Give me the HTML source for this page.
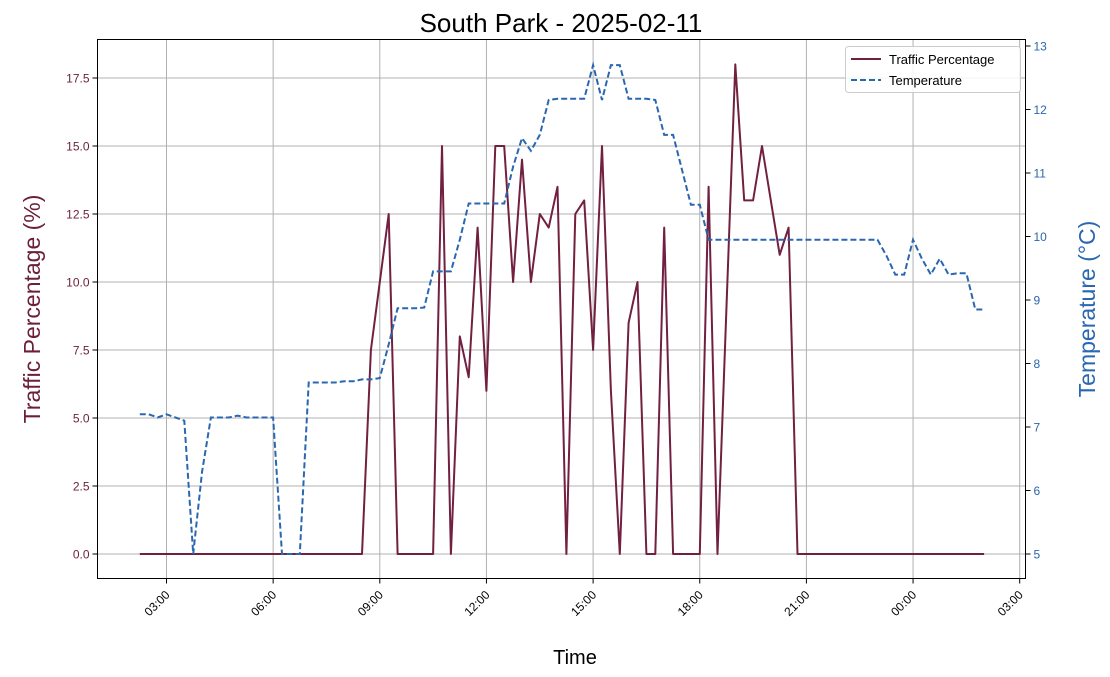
<!DOCTYPE html>
<html><head><meta charset="utf-8"><style>
body{margin:0;background:#fff;}
svg{font-family:"Liberation Sans","DejaVu Sans",sans-serif;display:block}
</style></head><body>
<svg id="chart" width="1110" height="677" viewBox="0 0 1110 677" xmlns="http://www.w3.org/2000/svg">
<rect width="1110" height="677" fill="#fff"/>
<text x="561" y="32" font-size="26" text-anchor="middle" fill="#000">South Park - 2025-02-11</text>
<g id="grid"></g>
<g id="series"></g>
<rect x="97.5" y="39.5" width="928" height="539" fill="none" stroke="#000" stroke-width="1"/>
<g id="axes"></g>
<text x="575" y="664" font-size="20" text-anchor="middle">Time</text>
<text transform="translate(40,309) rotate(-90)" font-size="23" text-anchor="middle" fill="#6b1f3a">Traffic Percentage (%)</text>
<text transform="translate(1095,309) rotate(-90)" font-size="23" text-anchor="middle" fill="#2a67b0">Temperature (°C)</text>
<g>
<rect x="845.5" y="46.5" width="175" height="46" rx="3" fill="#fff" fill-opacity="0.85" stroke="#ccc"/>
<line x1="851" y1="59" x2="881" y2="59" stroke="#722040" stroke-width="2"/>
<text x="889" y="64" font-size="13">Traffic Percentage</text>
<line x1="851" y1="80" x2="881" y2="80" stroke="#2a67b0" stroke-width="2" stroke-dasharray="6,3"/>
<text x="889" y="85" font-size="13">Temperature</text>
</g>
</svg>
<script>
const startHour = 2.25;
const stepHour = 0.25;
const traffic = [0,0,0,0,0,0,0,0,0,0,0,0,0,0,0,0,0,0,0,0,0,0,0,0,0,0,7.5,10,12.5,0,0,0,0,0,15,0,8,6.5,12,6,15,15,10,14.5,10,12.5,12,13.5,0,12.5,13,7.5,15,6,0,8.5,10,0,0,12,0,0,0,0,13.5,0,9,18,13,13,15,13,11,12,0,0,0,0,0,0,0,0,0,0,0,0,0,0,0,0,0,0,0,0,0,0];
const temperature = [7.2,7.2,7.15,7.2,7.15,7.1,5.0,6.3,7.15,7.15,7.15,7.18,7.15,7.15,7.15,7.15,5.0,5.0,5.0,
7.7,7.7,7.7,7.7,7.72,7.72,7.75,7.75,7.77,8.3,8.87,8.87,8.87,8.88,9.45,9.45,9.45,9.95,10.52,10.52,10.52,10.52,10.52,
11.1,11.55,11.35,11.6,12.15,12.17,12.17,12.17,12.17,12.7,12.15,12.7,12.7,12.17,12.17,12.17,12.15,11.6,11.6,11.05,10.5,10.5,
9.95,9.95,9.95,9.95,9.95,9.95,9.95,9.95,9.95,9.95,9.95,9.95,9.95,9.95,9.95,9.95,9.95,9.95,9.95,9.95,
9.7,9.4,9.4,9.95,9.65,9.4,9.65,9.4,9.42,9.42,8.85,8.85];
const xTickHours = [3,6,9,12,15,18,21,24,27];
const xTickLabels = ["03:00","06:00","09:00","12:00","15:00","18:00","21:00","00:00","03:00"];
const leftTicks = [0,2.5,5,7.5,10,12.5,15,17.5];
const leftTickLabels = ["0.0","2.5","5.0","7.5","10.0","12.5","15.0","17.5"];
const rightTicks = [5,6,7,8,9,10,11,12,13];

const NS = "http://www.w3.org/2000/svg";
const L=97.5,R=1025.5,T=39.5,B=578.5;
function xs(h){return 166.5+(h-3)*35.55;}
function yl(v){return 554-v*27.2;}
function yr(v){return 554-(v-5)*63.5;}
function mk(tag,attrs,parent){const e=document.createElementNS(NS,tag);for(const k in attrs)e.setAttribute(k,attrs[k]);parent.appendChild(e);return e;}
const grid=document.getElementById('grid'),axes=document.getElementById('axes'),series=document.getElementById('series');

xTickHours.forEach((h,i)=>{
  const x=xs(h);
  const g=mk('line',{x1:x,y1:T,x2:x,y2:B,stroke:'#b0b0b0','stroke-width':1},grid);
  
  
  const t=mk('line',{x1:x,y1:B,x2:x,y2:B+5,stroke:'#000'},axes);
  
  
  const tx=mk('text',{x:0,y:0,'font-size':12,'text-anchor':'end',transform:`translate(${x+4},${B+17}) rotate(-45)`},axes);
  tx.textContent=xTickLabels[i];
  
  
});
leftTicks.forEach((v,i)=>{
  const y=yl(v);
  const g=mk('line',{x1:L,y1:y,x2:R,y2:y,stroke:'#b0b0b0','stroke-width':1},grid);
  
  
  const t=mk('line',{x1:L-5,y1:y,x2:L,y2:y,stroke:'#000'},axes);
  
  
  const tx=mk('text',{x:L-8,y:y+4.5,'font-size':12,'text-anchor':'end',fill:'#6b1f3a'},axes);
  tx.textContent=leftTickLabels[i];
  
  
});
rightTicks.forEach(v=>{
  const y=yr(v);
  const t=mk('line',{x1:R,y1:y,x2:R+5,y2:y,stroke:'#000'},axes);
  
  
  const tx=mk('text',{x:R+8,y:y+4.5,'font-size':12,fill:'#2a67b0'},axes);
  tx.textContent=String(v);
  
  
});
const pT=traffic.map((v,i)=>xs(startHour+i*stepHour).toFixed(1)+','+yl(v).toFixed(1)).join(' ');
const lt=mk('polyline',{points:pT,fill:'none',stroke:'#722040','stroke-width':2,'stroke-linejoin':'round'},series);


const pR=temperature.map((v,i)=>xs(startHour+i*stepHour).toFixed(1)+','+yr(v).toFixed(1)).join(' ');
const lr=mk('polyline',{points:pR,fill:'none',stroke:'#2a67b0','stroke-width':2,'stroke-dasharray':'6,3'},series);


</script>
</body></html>
